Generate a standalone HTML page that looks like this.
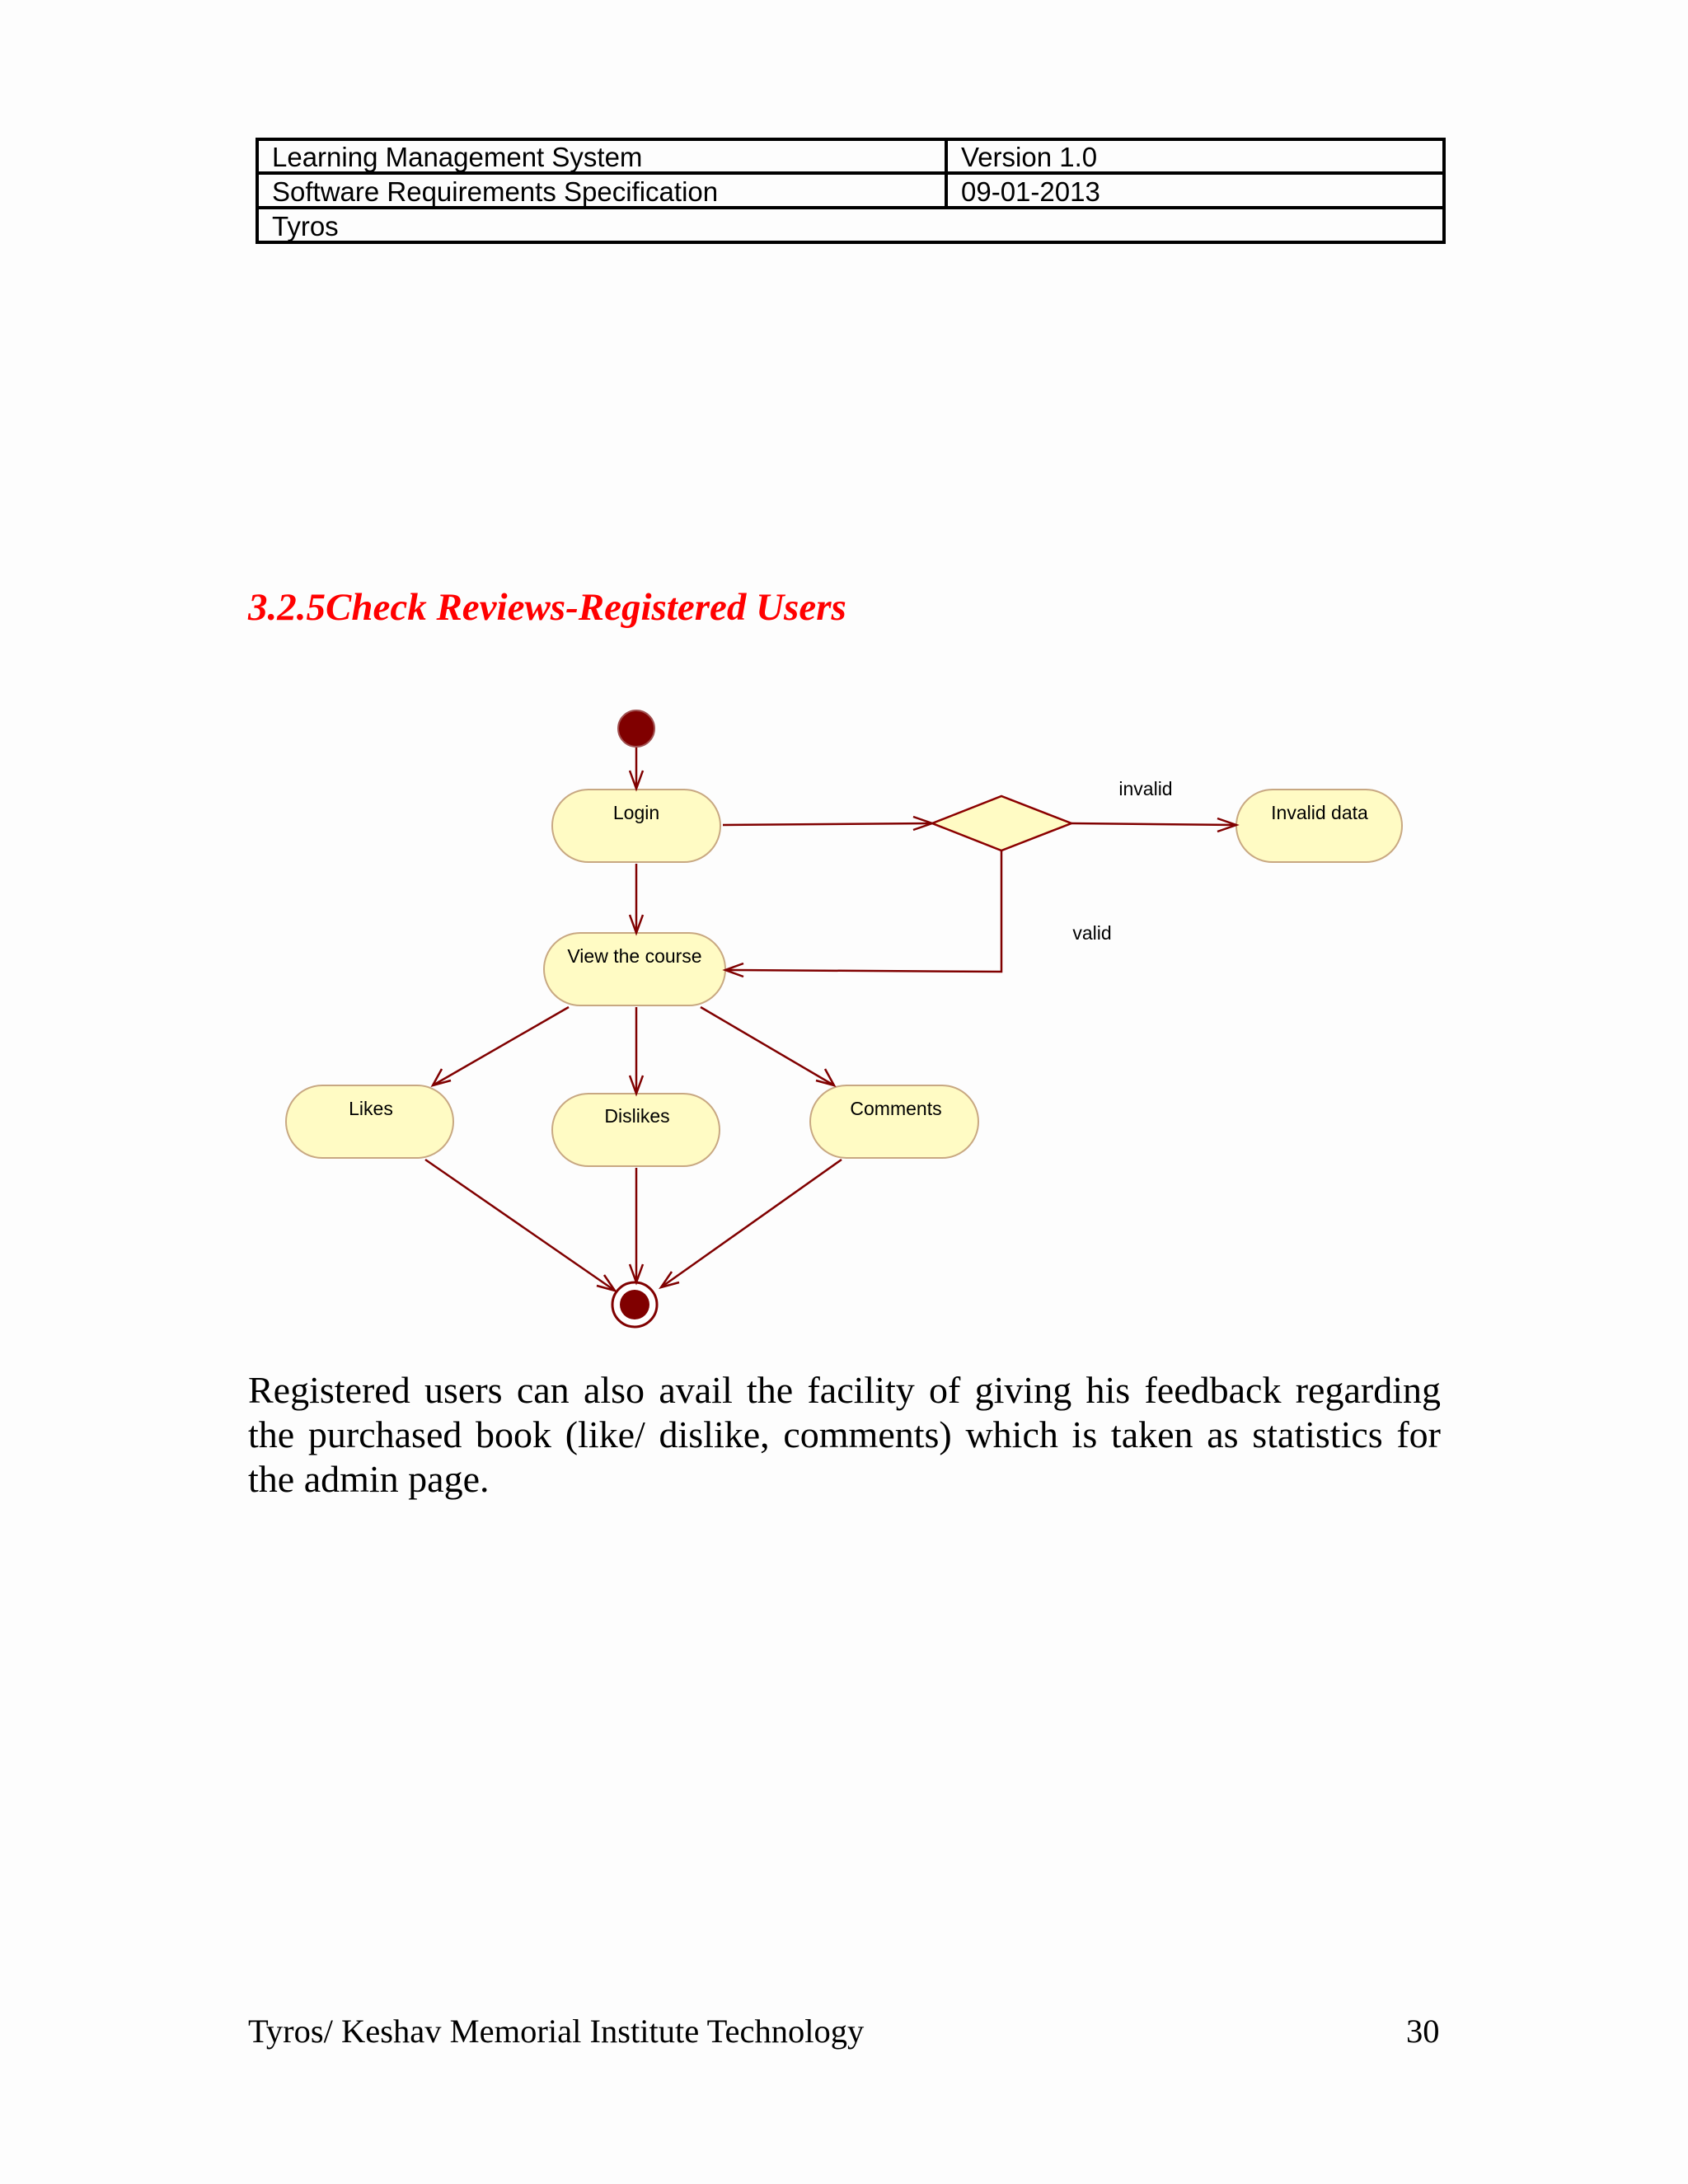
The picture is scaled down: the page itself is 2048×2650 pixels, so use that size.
<!DOCTYPE html>
<html><head><meta charset="utf-8"><style>
html,body{margin:0;padding:0}
body{width:2048px;height:2650px;background:#fdfdfd;position:relative;overflow:hidden}
.t{position:absolute;font-family:"Liberation Sans",sans-serif;font-size:33px;color:#000;line-height:1;white-space:nowrap}
.s{position:absolute;font-family:"Liberation Serif",serif;color:#000;white-space:nowrap}
</style></head><body>
<svg width="2048" height="2650" style="position:absolute;left:0;top:0">
<g fill="none" stroke="#000" stroke-width="4">
<rect x="312" y="169" width="1440" height="125"/>
<line x1="312" y1="210" x2="1752" y2="210"/>
<line x1="312" y1="252" x2="1752" y2="252"/>
<line x1="1148" y1="169" x2="1148" y2="252"/>
</g>
<g fill="#fffbc4" stroke="#c8a882" stroke-width="2">
<rect x="670" y="958" width="204" height="88" rx="44"/>
<rect x="1500" y="958" width="201" height="88" rx="44"/>
<rect x="660" y="1132" width="220" height="88" rx="44"/>
<rect x="347" y="1317" width="203" height="88" rx="44"/>
<rect x="670" y="1327" width="203" height="88" rx="44"/>
<rect x="983" y="1317" width="204" height="88" rx="44"/>
</g>
<polygon points="1131,999 1215,966 1300,999 1215,1032" fill="#fffbc4" stroke="#8b0000" stroke-width="2.5"/>
<circle cx="772" cy="884" r="22" fill="#800000" stroke="#a05050" stroke-width="2"/>
<circle cx="770" cy="1583" r="27" fill="#fff" stroke="#800000" stroke-width="3"/>
<circle cx="770" cy="1583" r="18" fill="#800000"/>
<g stroke="#800000" stroke-width="2.5" fill="none">
<line x1="772" y1="907" x2="772" y2="957"/><polyline points="764,935 772,957 780,935"/>
<line x1="877" y1="1001" x2="1131" y2="999"/><polyline points="1108,991 1131,999 1108,1007"/>
<line x1="1300" y1="999" x2="1500" y2="1001"/><polyline points="1477,993 1500,1001 1477,1009"/>
<line x1="772" y1="1048" x2="772" y2="1132"/><polyline points="764,1110 772,1132 780,1110"/>
<polyline points="1215,1032 1215,1179 880,1177"/><polyline points="902,1169 880,1177 902,1185"/>
<line x1="690" y1="1222" x2="525" y2="1317"/><polyline points="536,1297 525,1317 547,1311"/>
<line x1="772" y1="1222" x2="772" y2="1327"/><polyline points="764,1305 772,1327 780,1305"/>
<line x1="850" y1="1222" x2="1012" y2="1317"/><polyline points="990,1311 1012,1317 1001,1297"/>
<line x1="516" y1="1407" x2="746" y2="1566"/><polyline points="724,1560 746,1566 733,1547"/>
<line x1="772" y1="1417" x2="772" y2="1556"/><polyline points="764,1534 772,1556 780,1534"/>
<line x1="1021" y1="1407" x2="802" y2="1562"/><polyline points="815,1543 802,1562 824,1556"/>
</g>
<g font-family="Liberation Sans, sans-serif" font-size="23" fill="#000" text-anchor="middle">
<text x="772" y="994">Login</text>
<text x="1601" y="994">Invalid data</text>
<text x="770" y="1168">View the course</text>
<text x="450" y="1353">Likes</text>
<text x="773" y="1362">Dislikes</text>
<text x="1087" y="1353">Comments</text>
<text x="1390" y="965">invalid</text>
<text x="1325" y="1140">valid</text>
</g>
</svg>
<div class="t" style="left:330px;top:174px">Learning Management System</div>
<div class="t" style="left:1166px;top:174px">Version 1.0</div>
<div class="t" style="left:330px;top:216px">Software Requirements Specification</div>
<div class="t" style="left:1166px;top:216px">09-01-2013</div>
<div class="t" style="left:330px;top:258px">Tyros</div>
<div class="s" style="left:301px;top:710px;font-size:47px;font-weight:bold;font-style:italic;color:#f00">3.2.5Check Reviews-Registered Users</div>
<div class="s" style="left:301px;top:1660px;width:1447px;font-size:46px;line-height:54px;white-space:normal;text-align:justify">Registered users can also avail the facility of giving his feedback regarding the purchased book (like/ dislike, comments) which is taken as statistics for the admin page.</div>
<div class="s" style="left:301px;top:2441px;font-size:40.5px">Tyros/ Keshav Memorial Institute Technology</div>
<div class="s" style="left:1706px;top:2441px;font-size:40.5px">30</div>
</body></html>
